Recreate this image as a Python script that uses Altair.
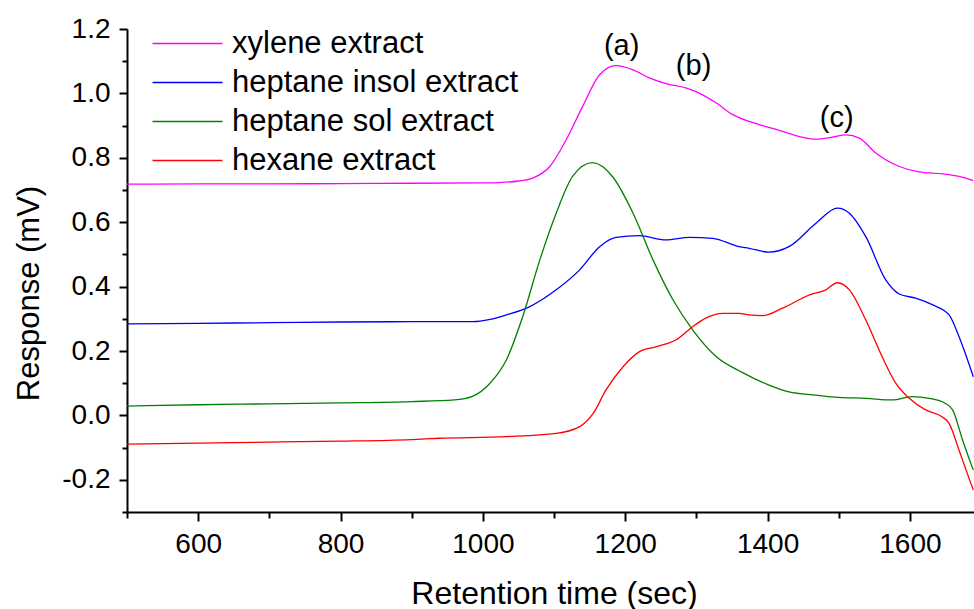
import altair as alt
import pandas as pd

FONT = "Liberation Sans"

series_names = ["xylene extract", "heptane insol extract", "heptane sol extract", "hexane extract"]
series_colors = ["#FF00FF", "#0000FF", "#008000", "#FF0000"]

xylene_t = [500, 600, 700, 800, 900, 1000, 1023, 1050, 1070, 1094, 1117, 1140, 1164, 1187, 1211,
            1234, 1257, 1285, 1304, 1328, 1351, 1374, 1398, 1421, 1445, 1468, 1491, 1510, 1529,
            1552, 1585, 1613, 1646, 1669, 1689]
xylene_v = [0.718, 0.719, 0.719, 0.720, 0.721, 0.722, 0.723, 0.728, 0.737, 0.773, 0.856, 0.959,
            1.058, 1.086, 1.073, 1.048, 1.030, 1.017, 1.001, 0.970, 0.934, 0.913, 0.897, 0.882,
            0.866, 0.858, 0.864, 0.871, 0.861, 0.815, 0.773, 0.756, 0.750, 0.742, 0.729]

insol_t = [500, 600, 700, 800, 900, 939, 986, 1010, 1033, 1066, 1103, 1136, 1164, 1187, 1220,
           1257, 1290, 1323, 1360, 1374, 1402, 1430, 1468, 1498, 1515, 1538, 1566, 1585, 1608,
           1632, 1655, 1669, 1689]
insol_v = [0.284, 0.286, 0.288, 0.290, 0.291, 0.291, 0.291, 0.298, 0.312, 0.338, 0.390, 0.452,
           0.524, 0.553, 0.558, 0.545, 0.553, 0.550, 0.524, 0.519, 0.507, 0.524, 0.597, 0.644,
           0.628, 0.555, 0.421, 0.377, 0.364, 0.343, 0.312, 0.244, 0.120]

sol_t = [500, 600, 700, 800, 900, 960, 986, 1010, 1033, 1056, 1080, 1103, 1126, 1154, 1182,
         1211, 1239, 1267, 1295, 1328, 1365, 1402, 1430, 1468, 1500, 1538, 1575, 1603, 1627,
         1650, 1660, 1674, 1689]
sol_v = [0.029, 0.033, 0.036, 0.039, 0.043, 0.048, 0.060, 0.100, 0.172, 0.307, 0.483, 0.628,
         0.742, 0.785, 0.742, 0.628, 0.483, 0.359, 0.265, 0.182, 0.133, 0.094, 0.073, 0.063,
         0.056, 0.053, 0.048, 0.058, 0.053, 0.037, 0.017, -0.077, -0.170]

hexane_t = [500, 600, 700, 800, 900, 939, 1033, 1103, 1136, 1155, 1173, 1197, 1220, 1243, 1271,
            1295, 1313, 1337, 1360, 1374, 1393, 1421, 1459, 1482, 1498, 1515, 1538, 1561, 1580,
            1599, 1622, 1645, 1655, 1669, 1689]
hexane_v = [-0.089, -0.086, -0.083, -0.080, -0.075, -0.071, -0.066, -0.056, -0.035, 0.006, 0.079,
            0.151, 0.198, 0.213, 0.234, 0.276, 0.302, 0.317, 0.317, 0.312, 0.310, 0.333, 0.374,
            0.390, 0.412, 0.390, 0.296, 0.182, 0.100, 0.053, 0.017, -0.004, -0.025, -0.108, -0.232]

peak_labels = ["(a)", "(b)", "(c)"]
peak_t = [1195, 1296, 1497]
peak_v = [1.120, 1.056, 0.895]

x_major = [600, 800, 1000, 1200, 1400, 1600]
x_minor = [500, 700, 900, 1100, 1300, 1500]
y_major = [-0.2, 0.0, 0.2, 0.4, 0.6, 0.8, 1.0, 1.2]
y_minor = [-0.3, -0.1, 0.1, 0.3, 0.5, 0.7, 0.9, 1.1]

rows = []
for name, ts, vs in zip(series_names,
                        [xylene_t, insol_t, sol_t, hexane_t],
                        [xylene_v, insol_v, sol_v, hexane_v]):
    for t, v in zip(ts, vs):
        rows.append({"time": t, "response": v, "series": name})
df = pd.DataFrame(rows)

peaks = pd.DataFrame({"label": peak_labels, "time": peak_t, "response": peak_v})

x_scale = alt.Scale(domain=[500, 1690], nice=False, zero=False)
y_scale = alt.Scale(domain=[-0.3, 1.2], nice=False, zero=False)

x_axis = alt.Axis(
    orient="bottom",
    values=x_major,
    title="Retention time (sec)",
    format="d",
    tickSize=9,
    labelPadding=9,
    labelFontSize=28,
    titleFontSize=32,
    titleX=427,
    titleY=91,
    titleAlign="center",
    titleBaseline="alphabetic",
    grid=False,
    labelOverlap=False,
    labelFlush=False,
)

y_axis = alt.Axis(
    orient="left",
    values=y_major,
    title="Response (mV)",
    labelExpr="replace(format(datum.value, '.1f'), '\u2212', '-')",
    tickSize=8,
    labelPadding=9,
    labelFontSize=28,
    titleFontSize=31,
    titleX=-89,
    titleY=264,
    titleAngle=270,
    titleAlign="center",
    titleBaseline="alphabetic",
    grid=False,
    labelOverlap=False,
    labelFlush=False,
)

x_minor_axis = alt.Axis(orient="bottom", values=x_minor, tickSize=6, labels=False,
                        title=None, domain=False, grid=False)
y_minor_axis = alt.Axis(orient="left", values=y_minor, tickSize=5, labels=False,
                        title=None, domain=False, grid=False)

lines = alt.Chart(df).mark_line(strokeWidth=1.3, interpolate="monotone", clip=True).encode(
    x=alt.X("time:Q", scale=x_scale, axis=x_axis),
    y=alt.Y("response:Q", scale=y_scale, axis=y_axis),
    color=alt.Color(
        "series:N",
        scale=alt.Scale(domain=series_names, range=series_colors),
        legend=alt.Legend(
            title=None,
            orient="none",
            legendX=25,
            legendY=-5,
            symbolType="M-3,0H3",
            symbolSize=544,
            symbolStrokeWidth=1.5,
            symbolOffset=20,
            labelOffset=29,
            labelFontSize=31,
            labelFont=FONT,
            labelColor="black",
            clipHeight=39,
            rowPadding=0,
            padding=0,
            labelLimit=800,
        ),
    ),
    detail="series:N",
)

texts = alt.Chart(peaks).mark_text(
    font=FONT, fontSize=29, color="black", align="center", baseline="alphabetic"
).encode(
    x=alt.X("time:Q", scale=x_scale, axis=x_minor_axis),
    y=alt.Y("response:Q", scale=y_scale, axis=y_minor_axis),
    text="label:N",
)

chart = (
    alt.layer(lines, texts)
    .resolve_axis(x="independent", y="independent")
    .properties(
        width=847,
        height=483,
        padding={"left": 127, "top": 29, "right": 0, "bottom": 97},
        autosize=alt.AutoSizeParams(type="none"),
        background="white",
    )
    .configure_view(stroke=None)
    .configure_axis(
        labelFont=FONT,
        titleFont=FONT,
        labelColor="black",
        titleColor="black",
        titleFontWeight="normal",
        domainColor="black",
        domainWidth=2,
        tickColor="black",
        tickWidth=2,
    )
)

chart.save("out.html", embed_options={"renderer": "svg", "actions": False})
